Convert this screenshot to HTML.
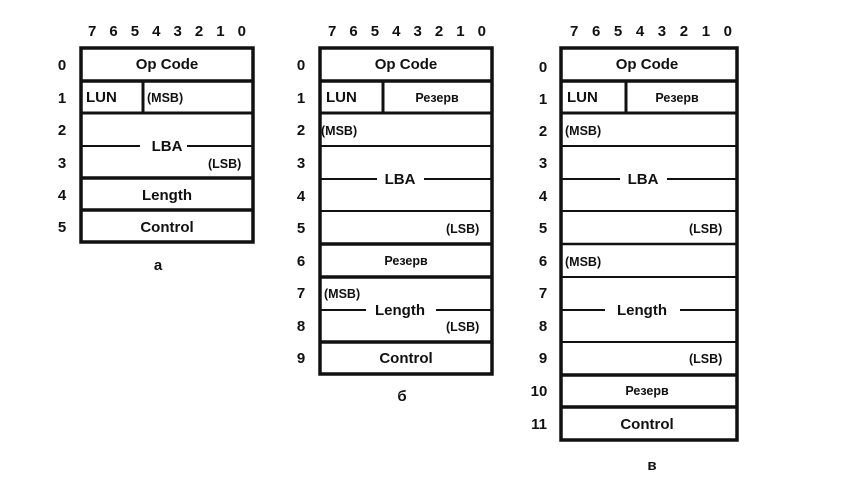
<!DOCTYPE html>
<html><head><meta charset="utf-8"><style>
html,body{margin:0;padding:0;background:#fff}
svg{display:block}
text{font-family:"Liberation Sans",sans-serif;font-weight:bold;fill:#111}
.t{font-size:15px}
.s{font-size:12.5px}
.n{font-size:15px}
</style></head><body>
<svg width="856" height="480" viewBox="0 0 856 480" xmlns="http://www.w3.org/2000/svg">
<g stroke="#111" fill="none">
<!-- table a -->
<rect x="81" y="48" width="172" height="194" stroke-width="3.5"/>
<line x1="81" y1="81" x2="253" y2="81" stroke-width="3.5"/>
<line x1="81" y1="113" x2="253" y2="113" stroke-width="3"/>
<line x1="143" y1="81" x2="143" y2="113" stroke-width="3"/>
<line x1="81" y1="146" x2="140" y2="146" stroke-width="2"/>
<line x1="187" y1="146" x2="253" y2="146" stroke-width="2"/>
<line x1="81" y1="178" x2="253" y2="178" stroke-width="3.5"/>
<line x1="81" y1="210" x2="253" y2="210" stroke-width="3.5"/>
<!-- table b -->
<rect x="320" y="48" width="172" height="326" stroke-width="3.5"/>
<line x1="320" y1="81" x2="492" y2="81" stroke-width="3.5"/>
<line x1="320" y1="113" x2="492" y2="113" stroke-width="3"/>
<line x1="383" y1="81" x2="383" y2="113" stroke-width="3"/>
<line x1="320" y1="146" x2="492" y2="146" stroke-width="2"/>
<line x1="320" y1="179" x2="377" y2="179" stroke-width="2"/>
<line x1="424" y1="179" x2="492" y2="179" stroke-width="2"/>
<line x1="320" y1="211" x2="492" y2="211" stroke-width="2"/>
<line x1="320" y1="244" x2="492" y2="244" stroke-width="3.5"/>
<line x1="320" y1="277" x2="492" y2="277" stroke-width="3.5"/>
<line x1="320" y1="310" x2="366" y2="310" stroke-width="2"/>
<line x1="436" y1="310" x2="492" y2="310" stroke-width="2"/>
<line x1="320" y1="342" x2="492" y2="342" stroke-width="3.5"/>
<!-- table c -->
<rect x="561" y="48" width="176" height="392" stroke-width="3.5"/>
<line x1="561" y1="81" x2="737" y2="81" stroke-width="3.5"/>
<line x1="561" y1="113" x2="737" y2="113" stroke-width="3"/>
<line x1="626" y1="81" x2="626" y2="113" stroke-width="3"/>
<line x1="561" y1="146" x2="737" y2="146" stroke-width="2"/>
<line x1="561" y1="179" x2="620" y2="179" stroke-width="2"/>
<line x1="667" y1="179" x2="737" y2="179" stroke-width="2"/>
<line x1="561" y1="211" x2="737" y2="211" stroke-width="2"/>
<line x1="561" y1="244" x2="737" y2="244" stroke-width="2.5"/>
<line x1="561" y1="277" x2="737" y2="277" stroke-width="2"/>
<line x1="561" y1="310" x2="605" y2="310" stroke-width="2"/>
<line x1="680" y1="310" x2="737" y2="310" stroke-width="2"/>
<line x1="561" y1="342" x2="737" y2="342" stroke-width="2"/>
<line x1="561" y1="375" x2="737" y2="375" stroke-width="3.5"/>
<line x1="561" y1="407" x2="737" y2="407" stroke-width="3.5"/>
</g>

<!-- bit headers -->
<text class="t" x="88" y="36" textLength="158" lengthAdjust="spacing">7 6 5 4 3 2 1 0</text>
<text class="t" x="328" y="36" textLength="158" lengthAdjust="spacing">7 6 5 4 3 2 1 0</text>
<text class="t" x="570" y="36" textLength="162" lengthAdjust="spacing">7 6 5 4 3 2 1 0</text>

<!-- row numbers a -->
<g class="n" text-anchor="middle">
<text class="n" x="62" y="70">0</text>
<text class="n" x="62" y="103">1</text>
<text class="n" x="62" y="135">2</text>
<text class="n" x="62" y="168">3</text>
<text class="n" x="62" y="200">4</text>
<text class="n" x="62" y="232">5</text>
</g>
<g text-anchor="middle">
<text class="n" x="301" y="70">0</text>
<text class="n" x="301" y="103">1</text>
<text class="n" x="301" y="135">2</text>
<text class="n" x="301" y="168">3</text>
<text class="n" x="301" y="201">4</text>
<text class="n" x="301" y="233">5</text>
<text class="n" x="301" y="266">6</text>
<text class="n" x="301" y="298">7</text>
<text class="n" x="301" y="331">8</text>
<text class="n" x="301" y="363">9</text>
</g>
<g text-anchor="middle">
<text class="n" x="543" y="72">0</text>
<text class="n" x="543" y="104">1</text>
<text class="n" x="543" y="136">2</text>
<text class="n" x="543" y="168">3</text>
<text class="n" x="543" y="201">4</text>
<text class="n" x="543" y="233">5</text>
<text class="n" x="543" y="266">6</text>
<text class="n" x="543" y="298">7</text>
<text class="n" x="543" y="331">8</text>
<text class="n" x="543" y="363">9</text>
<text class="n" x="539" y="396">10</text>
<text class="n" x="539" y="429">11</text>
</g>

<!-- contents a -->
<g text-anchor="middle">
<text class="t" x="167" y="69">Op Code</text>
<text class="t" x="167" y="151">LBA</text>
<text class="t" x="167" y="200">Length</text>
<text class="t" x="167" y="232">Control</text>
<text class="t" x="158" y="270">a</text>
</g>
<text class="t" x="86" y="102">LUN</text>
<text class="s" x="147" y="102">(MSB)</text>
<text class="s" x="208" y="168">(LSB)</text>

<!-- contents b -->
<g text-anchor="middle">
<text class="t" x="406" y="69">Op Code</text>
<text class="s" x="437" y="102">Резерв</text>
<text class="t" x="400" y="184">LBA</text>
<text class="s" x="406" y="265">Резерв</text>
<text class="t" x="400" y="315">Length</text>
<text class="t" x="406" y="363">Control</text>
<text class="t" x="402" y="401">б</text>
</g>
<text class="t" x="326" y="102">LUN</text>
<text class="s" x="321" y="135">(MSB)</text>
<text class="s" x="446" y="233">(LSB)</text>
<text class="s" x="324" y="298">(MSB)</text>
<text class="s" x="446" y="331">(LSB)</text>

<!-- contents c -->
<g text-anchor="middle">
<text class="t" x="647" y="69">Op Code</text>
<text class="s" x="677" y="102">Резерв</text>
<text class="t" x="643" y="184">LBA</text>
<text class="t" x="642" y="315">Length</text>
<text class="s" x="647" y="395">Резерв</text>
<text class="t" x="647" y="429">Control</text>
<text class="t" x="652" y="470">в</text>
</g>
<text class="t" x="567" y="102">LUN</text>
<text class="s" x="565" y="135">(MSB)</text>
<text class="s" x="689" y="233">(LSB)</text>
<text class="s" x="565" y="266">(MSB)</text>
<text class="s" x="689" y="363">(LSB)</text>
</svg>
</body></html>
